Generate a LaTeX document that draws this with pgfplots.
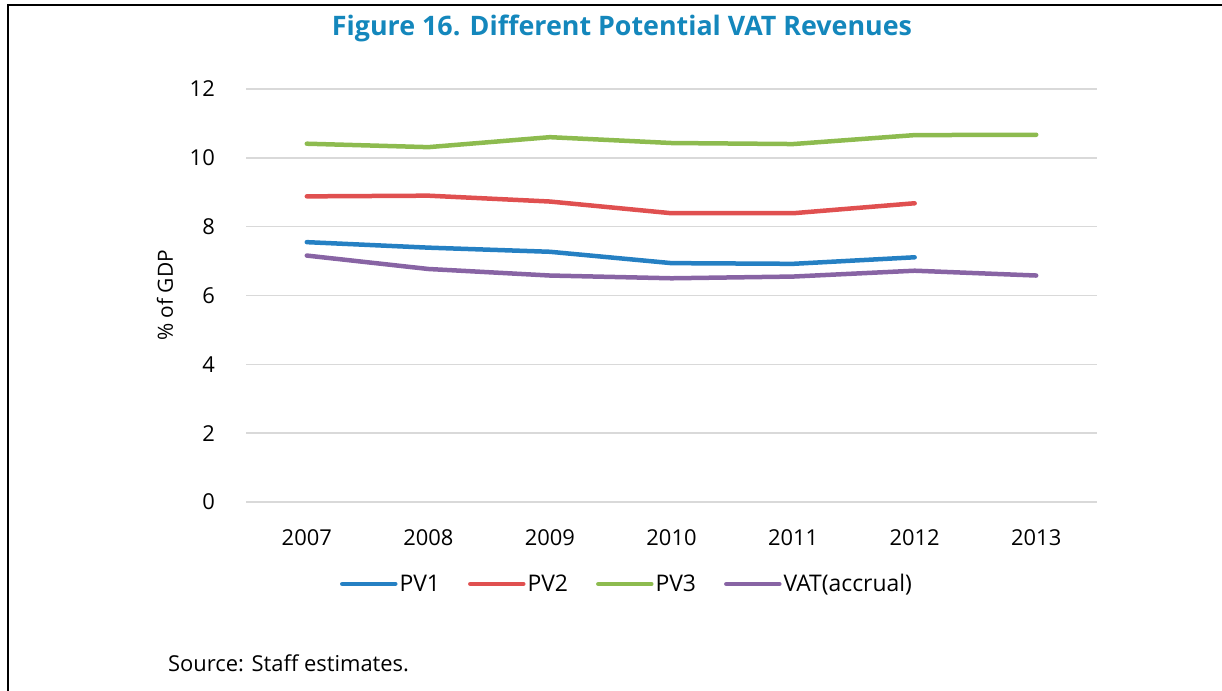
\documentclass[border=0pt]{standalone}
\usepackage{fontspec}
\setmainfont{Open Sans}
\usepackage{pgfplots}
\pgfplotsset{compat=1.18}
\definecolor{cPVa}{HTML}{2580C3}
\definecolor{cPVb}{HTML}{E05050}
\definecolor{cPVc}{HTML}{8DBB4F}
\definecolor{cVAT}{HTML}{8864A4}
\definecolor{ctitle}{HTML}{1487BC}
\definecolor{cgrid}{HTML}{D9D9D9}
\begin{document}
\begin{tikzpicture}[x=1bp,y=1bp]
\path[use as bounding box] (0,0) rectangle (1222,691);
\draw[line width=2bp] (8,-2) -- (8,686) -- (1224,686);
\node[anchor=center,inner sep=0pt] at (622,663) {\resizebox{580bp}{!}{\bfseries\color{ctitle}Figure 16. Different Potential VAT Revenues}};
\node[anchor=west,inner sep=0pt] at (168,28) {\fontsize{22}{26}\selectfont Source: Staff estimates.};
\begin{axis}[
  at={(246bp,189bp)}, anchor=south west,
  scale only axis, width=851bp, height=413bp,
  xmin=-0.5, xmax=6.5, ymin=0, ymax=12,
  xtick={0,1,2,3,4,5,6},
  xticklabels={2007,2008,2009,2010,2011,2012,2013},
  ytick={0,2,4,6,8,10,12},
  ymajorgrids, grid style={cgrid, line width=1.5bp},
  axis line style={draw=none},
  major tick length=0pt,
  /pgf/number format/assume math mode=true,
  tick label style={font=\fontsize{22}{26}\selectfont},
  yticklabel style={inner sep=0pt, anchor=east, xshift=-31bp},
  xticklabel style={inner sep=0pt, anchor=north, yshift=-27bp},
  ylabel={\% of GDP},
  ylabel style={at={(axis description cs:-0.0952,0.5)}, anchor=center, font=\fontsize{21}{25}\selectfont},
  legend columns=4,
  legend style={at={(axis description cs:0.4477,-0.1985)}, anchor=center, draw=none,
    font=\fontsize{23}{27}\selectfont,
    /tikz/every even column/.append style={column sep=26bp},
    /tikz/every odd column/.append style={column sep=0bp}},
  legend cell align=left,
  legend image code/.code={\draw[#1, line width=4.5bp, line cap=round] (0bp,0bp) -- (53bp,0bp);},
  every axis plot/.append style={line width=4.5bp, line cap=round, line join=round},
  clip=false,
]
\addplot[cPVa, mark=none] coordinates {(0,7.55) (1,7.39) (2,7.27) (3,6.94) (4,6.92) (5,7.11)};
\addlegendentry{PV1}
\addplot[cPVb, mark=none] coordinates {(0,8.88) (1,8.90) (2,8.73) (3,8.39) (4,8.39) (5,8.68)};
\addlegendentry{PV2}
\addplot[cPVc, mark=none] coordinates {(0,10.41) (1,10.31) (2,10.60) (3,10.43) (4,10.40) (5,10.66) (6,10.67)};
\addlegendentry{PV3}
\addplot[cVAT, mark=none] coordinates {(0,7.16) (1,6.77) (2,6.58) (3,6.50) (4,6.55) (5,6.72) (6,6.58)};
\addlegendentry{VAT(accrual)}
\end{axis}
\end{tikzpicture}
\end{document}
